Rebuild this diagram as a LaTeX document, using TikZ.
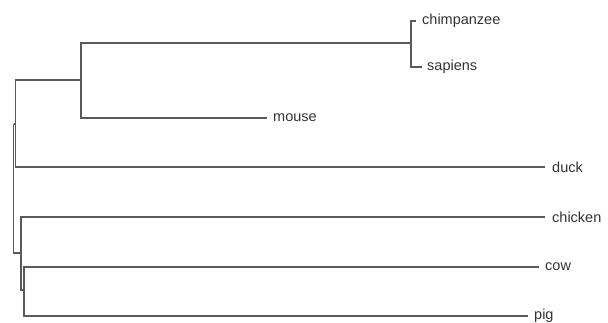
\documentclass[tikz,border=0pt]{standalone}
\usepackage{fontspec}
\setmainfont{Liberation Sans}
\definecolor{edgecol}{HTML}{5A5A5A}
\definecolor{txtcol}{HTML}{333333}
\begin{document}
\begin{tikzpicture}[x={(1pt,0)},y={(0,-1pt)},
  edge/.style={draw=edgecol,line width=1.1pt},
  leaf/.style={anchor=west,inner ysep=0pt,inner xsep=6pt,text=txtcol,font=\fontsize{14.5}{16}\selectfont}]
\useasboundingbox (0,0) rectangle (608,323);
% internal nodes
\coordinate (R) at (13.7,124);
\coordinate (A) at (15.7,124);
\coordinate (B) at (81,80);
\coordinate (C) at (411,43);
\coordinate (D) at (21,253);
\coordinate (E) at (24,290);
% leaves
\node[leaf] (chimp) at (416,21) {chimpanzee};
\node[leaf,inner xsep=5pt] (sap) at (422,67) {sapiens};
\node[leaf] (mouse) at (267,118) {mouse};
\node[leaf,inner xsep=7pt] (duck) at (545,167) {duck};
\node[leaf,inner xsep=7pt] (chick) at (545,217) {chicken};
\node[leaf] (cow) at (539,267) {cow};
\node[leaf] (pig) at (528,316) {pig};
% edges
\path[edge] (R) -- (A);
\path[edge] (R) |- (D);
\path[edge] (A) |- (B);
\path[edge] (A) |- (duck.west);
\path[edge] (B) |- (C);
\path[edge] (B) |- (mouse.west);
\path[edge] (C) |- (chimp.west);
\path[edge] (C) |- (sap.west);
\path[edge] (D) |- (chick.west);
\path[edge] (D) |- (E);
\path[edge] (E) |- (cow.west);
\path[edge] (E) |- (pig.west);
\end{tikzpicture}
\end{document}
